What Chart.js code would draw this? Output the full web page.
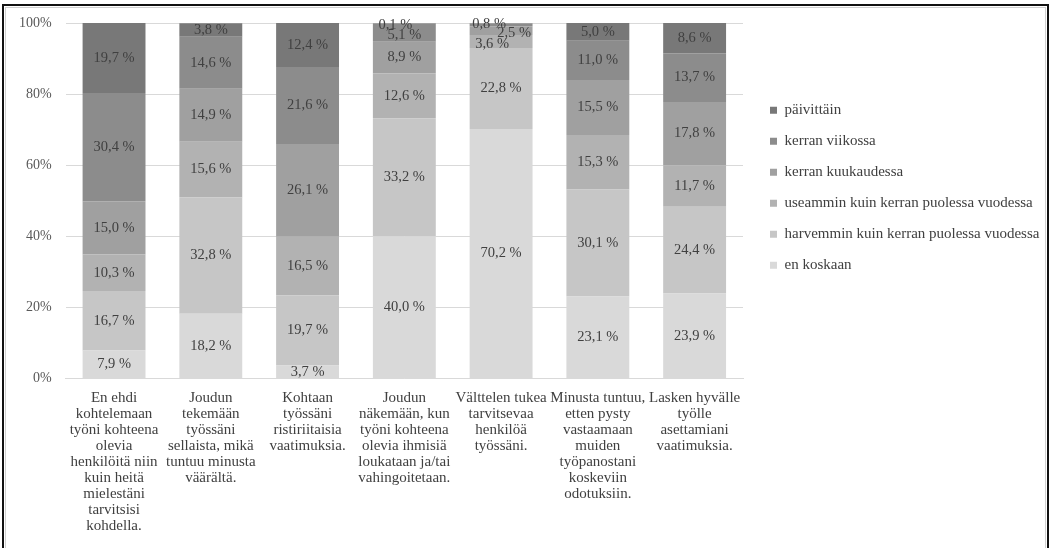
<!DOCTYPE html>
<html>
<head>
<meta charset="utf-8">
<script src="https://cdn.jsdelivr.net/npm/chart.js@4.4.1/dist/chart.umd.min.js"></script>
<style>
  body { margin: 0; background: #fff; }
  #frame {
    position: absolute; left: 2px; top: 4px; width: 1043px; height: 600px;
    border: 2px solid #111;
  }
  #inner {
    position: absolute; left: 1px; top: 1px; right: 1px; bottom: 1px;
    border: 1px solid #d0d0d0;
  }
  #wrap { position: absolute; left: 5px; top: 7px; width: 1040px; height: 541px; }
</style>
</head>
<body>
<div id="frame"><div id="inner"></div></div>
<div id="wrap"><canvas id="chart"></canvas></div>
<script>
// Kysymykset (x-akselin nimikkeet rivitettyinä)
const categories = [
    ['En ehdi', 'kohtelemaan', 'työni kohteena', 'olevia', 'henkilöitä niin', 'kuin heitä', 'mielestäni', 'tarvitsisi', 'kohdella.'],
    ['Joudun', 'tekemään', 'työssäni', 'sellaista, mikä', 'tuntuu minusta', 'väärältä.'],
    ['Kohtaan', 'työssäni', 'ristiriitaisia', 'vaatimuksia.'],
    ['Joudun', 'näkemään, kun', 'työni kohteena', 'olevia ihmisiä', 'loukataan ja/tai', 'vahingoitetaan.'],
    ['Välttelen tukea', 'tarvitsevaa', 'henkilöä', 'työssäni.'],
    ['Minusta tuntuu,', 'etten pysty', 'vastaamaan', 'muiden', 'työpanostani', 'koskeviin', 'odotuksiin.'],
    ['Lasken hyvälle', 'työlle', 'asettamiani', 'vaatimuksia.']
];

// Sarjat alhaalta ylös
const enKoskaan   = [7.9, 18.2, 3.7, 40.0, 70.2, 23.1, 23.9];
const harvemmin   = [16.7, 32.8, 19.7, 33.2, 22.8, 30.1, 24.4];
const useammin    = [10.3, 15.6, 16.5, 12.6, 3.6, 15.3, 11.7];
const kuukaudessa = [15.0, 14.9, 26.1, 8.9, 2.5, 15.5, 17.8];
const viikossa    = [30.4, 14.6, 21.6, 5.1, 0.8, 11.0, 13.7];
const paivittain  = [19.7, 3.8, 12.4, 0.1, 0, 5.0, 8.6];

const yTicks = [0, 20, 40, 60, 80, 100];

const seriesNames = ['en koskaan', 'harvemmin kuin kerran puolessa vuodessa', 'useammin kuin kerran puolessa vuodessa',
    'kerran kuukaudessa', 'kerran viikossa', 'päivittäin'];
const seriesValues = [enKoskaan, harvemmin, useammin, kuukaudessa, viikossa, paivittain];
const seriesColors = ['#d9d9d9', '#c6c6c6', '#b2b2b2', '#a0a0a0', '#8c8c8c', '#787878'];

// päällekkäisten arvojen siirrot (dataset, kategoria, dx, dy)
const labelNudges = [
    { ds: 5, i: 3, dx: -9, dy: 2 },
    { ds: 4, i: 3, dx: 0, dy: 2 },
    { ds: 4, i: 4, dx: -12, dy: -1 },
    { ds: 3, i: 4, dx: 13, dy: 3 },
    { ds: 2, i: 4, dx: -9, dy: 3 }
];

const serif = "'Liberation Serif', 'Times New Roman', serif";

// arvot palkkien keskelle
const valueLabels = {
    id: 'valueLabels',
    afterDatasetsDraw(chart) {
        const ctx = chart.ctx;
        ctx.save();
        ctx.font = '14.5px ' + serif;
        ctx.fillStyle = '#404040';
        ctx.textAlign = 'center';
        ctx.textBaseline = 'middle';
        chart.data.datasets.forEach((ds, d) => {
            chart.getDatasetMeta(d).data.forEach((bar, i) => {
                const v = ds.data[i];
                if (!v) return;
                let x = bar.x;
                let y = (bar.y + bar.base) / 2;
                const n = labelNudges.find(o => o.ds === d && o.i === i);
                if (n) { x += n.dx; y += n.dy; }
                ctx.fillText(v.toFixed(1).replace('.', ',') + ' %', x, y);
            });
        });
        ctx.restore();
    }
};

// selite vähän ylemmäs ja oikealle; leikkausalue kankaan reunaan asti
const legendShift = {
    id: 'legendShift',
    afterLayout(chart) {
        const lg = chart.legend;
        lg.left += 11;
        lg.right = chart.width;
        lg.width = lg.right - lg.left;
        lg.top -= 13; lg.bottom -= 13;
    }
};

const data = {
    labels: categories,
    datasets: seriesNames.map((name, k) => ({
        label: name,
        data: seriesValues[k],
        backgroundColor: seriesColors[k],
        borderWidth: 0,
        categoryPercentage: 0.65,
        barPercentage: 1
    }))
};

const config = {
    type: 'bar',
    data: data,
    options: {
        responsive: true,
        maintainAspectRatio: false,
        animation: false,
        layout: { padding: { left: 0, top: 16, right: 56, bottom: 3 } },
        scales: {
            x: {
                stacked: true,
                grid: { display: false, drawTicks: false },
                border: { color: '#d9d9d9' },
                ticks: {
                    autoSkip: false, maxRotation: 0, padding: 11,
                    color: '#404040',
                    font: { family: serif, size: 15, lineHeight: 1.07 }
                }
            },
            y: {
                stacked: true,
                min: 0, max: 100,
                afterBuildTicks: axis => { axis.ticks = yTicks.map(v => ({ value: v })); },
                afterFit: axis => { axis.paddingTop = 0; axis.paddingBottom = 0; },
                grid: { color: '#d9d9d9', drawTicks: false },
                border: { display: false },
                ticks: {
                    padding: 14,
                    color: '#595959',
                    font: { family: serif, size: 14 },
                    callback: v => v + '%'
                }
            }
        },
        plugins: {
            legend: {
                position: 'right',
                fullSize: false,
                reverse: true,
                labels: {
                    boxWidth: 7, boxHeight: 7, padding: 16,
                    color: '#404040',
                    font: { family: serif, size: 15 }
                }
            },
            tooltip: { enabled: false }
        }
    },
    plugins: [valueLabels, legendShift]
};

const chart = new Chart(document.getElementById('chart'), config);
</script>
</body>
</html>
